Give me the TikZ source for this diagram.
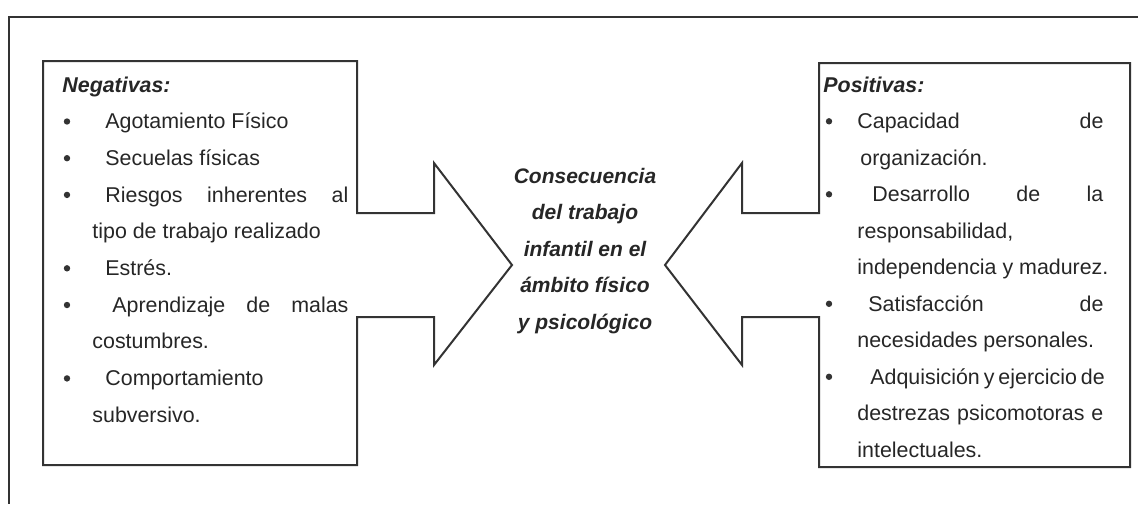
\documentclass[tikz,border=0pt]{standalone}
\usepackage{fontspec}
\setmainfont{Liberation Sans}
\usepackage{tikz}
\tikzset{
    frame/.style={
           draw=black!80,
           line width=1pt,
           line join=miter,
           },
    txt/.style={
           anchor=base west,
           inner sep=0pt,
           text=black!85,
           font=\fontsize{10.7}{13}\selectfont,
           },
    ttl/.style={
           txt,
           font=\fontsize{10.7}{13}\selectfont\bfseries\itshape,
           },
    bul/.style={
           circle,
           fill=black!80,
           inner sep=0pt,
           minimum size=3.2pt,
           yshift=3.6pt,
           },
    mid/.style={
           txt,
           anchor=base,
           font=\fontsize{10.5}{13}\selectfont\bfseries\itshape,
           },
}

\begin{document}
\begin{tikzpicture}[x=0.5pt,y=-0.5pt]
\useasboundingbox (0,0) rectangle (1138,504);
% outer frame
\draw[frame] (1138,17) -- (9,17) -- (9,504);
% left box with arrow
\draw[frame] (43,61) -- (357,61) -- (357,213) -- (434,213) -- (434,163) -- (512,265)
    -- (434,365) -- (434,317) -- (357,317) -- (357,465) -- (43,465) -- cycle;
% right box with arrow
\draw[frame] (1130,63) -- (819,63) -- (819,213) -- (742,213) -- (742,163) -- (665,265)
    -- (742,365) -- (742,317) -- (819,317) -- (819,467) -- (1130,467) -- cycle;

% negativas
\node[ttl] (neg) at (62,92) {Negativas:};
\node[bul] (nb1) at (67,128.7) {};
\node[txt] (n1) at (105,128.7) {Agotamiento Físico};
\node[bul] (nb2) at (67,165.4) {};
\node[txt] (n2) at (105,165.4) {Secuelas físicas};
\node[bul] (nb3) at (67,202.1) {};
\node[txt] (n3) at (105,202.1) {\makebox[121.5pt][s]{Riesgos inherentes al}};
\node[txt] (n4) at (92,238.8) {tipo de trabajo realizado};
\node[bul] (nb5) at (67,275.5) {};
\node[txt] (n5) at (105,275.5) {Estrés.};
\node[bul] (nb6) at (67,312.2) {};
\node[txt] (n6) at (112,312.2) {\makebox[118pt][s]{Aprendizaje de malas}};
\node[txt] (n7) at (92,348.9) {costumbres.};
\node[bul] (nb8) at (67,385.6) {};
\node[txt] (n8) at (105,385.6) {Comportamiento};
\node[txt] (n9) at (92,422.3) {subversivo.};

% centro
\node[mid] (c1) at (585,183) {Consecuencia};
\node[mid] (c2) at (585,219.5) {del trabajo};
\node[mid] (c3) at (585,256) {infantil en el};
\node[mid] (c4) at (585,292.5) {ámbito físico};
\node[mid] (c5) at (585,329) {y psicológico};

% positivas
\node[ttl] (pos) at (823,92) {Positivas:};
\node[bul] (pb1) at (829,128.5) {};
\node[txt] (p1) at (857,128.5) {\makebox[123pt][s]{Capacidad de}};
\node[txt] (p2) at (860,165) {organización.};
\node[bul] (pb3) at (829,201.5) {};
\node[txt] (p3) at (872,201.5) {\makebox[115.5pt][s]{Desarrollo de la}};
\node[txt] (p4) at (857,238) {responsabilidad,};
\node[txt] (p5) at (857,274.5) {independencia y madurez.};
\node[bul] (pb6) at (829,311) {};
\node[txt] (p6) at (868,311) {\makebox[117.5pt][s]{Satisfacción de}};
\node[txt] (p7) at (857,347.5) {necesidades personales.};
\node[bul] (pb8) at (829,384) {};
\node[txt] (p8) at (870,384) {\makebox[116.5pt][s]{Adquisición y ejercicio de}};
\node[txt] (p9) at (857,420.5) {\makebox[123pt][s]{destrezas psicomotoras e}};
\node[txt] (p10) at (857,457) {intelectuales.};
\end{tikzpicture}
\end{document}
